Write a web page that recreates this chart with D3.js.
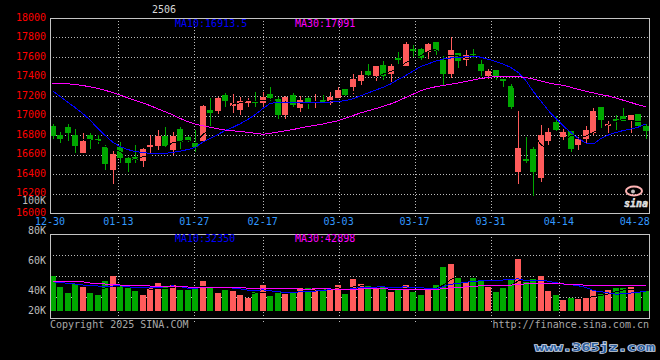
<!DOCTYPE html>
<html><head><meta charset="utf-8">
<script src="https://cdn.jsdelivr.net/npm/d3@7"></script>
<style>
html,body{margin:0;padding:0;background:#000;}
svg{display:block;}
text{font-family:"DejaVu Sans Mono","Liberation Mono",monospace;font-size:10px;}
</style></head><body>
<svg id="c" width="660" height="360"></svg>
<script>
// ---------- data ----------
const dates = ["12-30","12-31","01-02","01-03","01-06","01-07","01-08","01-09","01-10","01-13",
"01-14","01-15","01-16","01-17","01-20","01-21","01-22","01-23","01-24","01-27",
"02-05","02-06","02-07","02-10","02-11","02-12","02-13","02-14","02-17","02-18",
"02-19","02-20","02-21","02-24","02-25","02-26","02-27","02-28","03-03","03-04",
"03-05","03-06","03-07","03-10","03-11","03-12","03-13","03-14","03-17","03-18",
"03-19","03-20","03-21","03-24","03-25","03-26","03-27","03-28","03-31","04-01",
"04-02","04-03","04-07","04-08","04-09","04-10","04-11","04-14","04-15","04-16",
"04-17","04-18","04-21","04-22","04-23","04-24","04-25","04-28","04-29","04-30"];
const opens = [16892,16800,16879,16797,16612,16800,16759,16680,16438,16677,
16567,16574,16533,16677,16688,16786,16646,16858,16776,16721,
16741,17052,17048,17210,17095,17058,17133,17153,17126,17220,
17170,17008,17210,17075,17183,17126,17160,17133,17183,17276,
17290,17351,17453,17402,17522,17430,17586,17505,17682,17685,
17648,17757,17573,17430,17641,17573,17634,17532,17410,17464,
17372,17301,16423,16551,16652,16358,16737,16930,16778,16838,
16696,16764,16821,17092,16896,16967,16997,16950,17018,16889];
const highs = [16916,16834,16909,16858,16824,16817,16803,16694,16636,16732,
16581,16694,16670,16800,16848,16879,16834,16879,16786,16848,
17110,17183,17190,17234,17220,17187,17183,17240,17244,17288,
17193,17200,17227,17203,17190,17220,17210,17237,17288,17276,
17430,17453,17532,17505,17562,17532,17648,17753,17726,17692,
17743,17757,17624,17804,17641,17675,17685,17566,17480,17464,
17372,17345,17048,16781,16679,16906,16872,16990,16862,16838,
16788,16896,17082,17092,16940,17001,17082,17007,17018,16916];
const lows = [16756,16718,16738,16619,16612,16656,16711,16444,16294,16509,
16417,16509,16472,16619,16636,16670,16595,16653,16728,16629,
16730,16890,17014,17092,17025,17008,17092,17092,17092,17153,
16967,16967,17085,17031,17065,17082,17126,17109,17176,17181,
17225,17317,17402,17351,17361,17341,17532,17505,17600,17573,
17583,17620,17317,17385,17487,17505,17583,17402,17370,17369,
17295,17068,16298,16510,16172,16314,16696,16838,16744,16625,
16646,16720,16805,16872,16821,16855,16940,16821,16889,16761];
const closes = [16790,16759,16820,16684,16738,16745,16735,16499,16602,16567,
16509,16547,16653,16694,16786,16688,16786,16728,16735,16674,
17099,17028,17183,17153,17133,17150,17153,17129,17193,17183,
17001,17187,17109,17160,17126,17139,17139,17190,17261,17215,
17379,17416,17419,17505,17402,17511,17566,17736,17665,17590,
17736,17658,17430,17675,17556,17624,17620,17453,17453,17403,
17355,17092,16663,16534,16416,16805,16828,16848,16828,16659,
16754,16855,17048,16950,16916,16940,16940,17007,16889,16838];
const volumes = [59150,40560,30420,44620,40560,30420,26530,50190,59150,42250,
37860,33290,26530,40560,46810,40050,43430,34980,34980,40560,
50190,37860,30420,34980,33800,26530,21970,32110,43430,25350,
33800,28220,33290,38360,38360,36670,36170,38870,43430,28220,
53570,45120,41740,37860,40050,32110,36670,43430,32110,26530,
38870,43430,74360,78920,55260,49010,55770,50190,40560,32110,
38870,51880,87370,48000,53570,60330,33800,26530,18080,21970,
19770,23660,34980,28220,34480,38870,38870,40050,32110,33800];
// moving averages of close as drawn on the chart
const ma10 = [17254,17195,17138,17082,17021,16954,16869,16795,16728,16682,
16651,16631,16621,16612,16610,16612,16621,16634,16651,16672,
16728,16764,16805,16846,16879,16916,16959,17010,17072,17126,
17133,17133,17132,17134,17135,17135,17138,17138,17142,17154,
17171,17202,17231,17260,17289,17323,17369,17410,17456,17501,
17530,17557,17579,17590,17597,17602,17610,17598,17576,17554,
17528,17492,17441,17359,17246,17149,17051,16969,16892,16826,
16764,16718,16708,16764,16800,16826,16846,16862,16882,16913.5];
const ma30 = [17330,17328,17325,17318,17308,17294,17279,17258,17237,17210,
17182,17154,17130,17101,17069,17038,17007,16969,16938,16913,
16894,16879,16864,16851,16843,16836,16828,16817,16808,16817,
16831,16843,16856,16872,16887,16900,16913,16930,16946,16971,
17000,17026,17048,17070,17094,17118,17149,17184,17218,17254,
17277,17295,17308,17321,17333,17349,17364,17379,17390,17400,
17405,17405,17400,17390,17374,17354,17335,17320,17310,17289,
17267,17248,17231,17215,17200,17179,17156,17133,17108,17091];
// volume MA values before a full window exists inside the shown range
const volMa10Head = [49010,47660,46310,45120,43430,42590,41740,41740,41740];
const volMa30Head = [50190,50190,49700,49350,49010,46810,46310,45120,44620,43430,
42930,42930,42590,41740,41240,41240,40900,40390,40050,40050,
39720,39550,39210,38900,38700,38500,38300,38200,38100];
const xTickLabels = ["12-30","01-13","01-27","02-17","03-03","03-17","03-31","04-14","04-28"];
const priceTicks = [16000,16200,16400,16600,16800,17000,17200,17400,17600,17800,18000];
const volTickLabels = [20000,40000,60000,80000,100000];
const titleText = "2506";
const priceLegend = [["MA10:16913.5","#0000ff"],["MA30:17091","#ff00ff"]];
const volLegend = [["MA10:32350","#0000ff"],["MA30:42898","#ff00ff"]];

// ---------- helpers ----------
function movAvg(arr, n, head){
  return arr.map((v,i)=>{
    if(i<n-1) return head ? head[i] : null;
    return d3.mean(arr.slice(i-n+1,i+1));
  });
}
const ma5 = movAvg(closes,5,null);
const vma5 = movAvg(volumes,5,null);
const vma10 = movAvg(volumes,10,volMa10Head);
const vma30 = movAvg(volumes,30,volMa30Head);

// ---------- layout ----------
const L=50, R=649, PT=18, PB=213, VT=234, VB=318, VBASE=310.7;
const svg = d3.select("#c");
svg.append("rect").attr("width",660).attr("height",360).attr("fill","#000");

const x = d3.scaleBand().domain(dates).range([49.5,649]).paddingInner(0.2);
const xp = d3.scalePoint().domain(dates).range([50,650]);
const y = d3.scaleLinear().domain([16000,18000]).range([PB,PT]);
const yv = d3.scaleLinear().domain([0,100000]).range([VBASE, VBASE-100000/1690]);
const yvLabel = d3.scaleLinear().domain([20000,100000]).range([320.5,200.5]);

const UP="#ff5b5b", DOWN="#00a800", GRID="#bdbdbd", BORDER="#c4c4c4";
const bx = d => Math.round(x(d));
const cx = i => x(dates[i]) + x.bandwidth()/2;

const grid = svg.append("g").attr("shape-rendering","crispEdges");
// horizontal price grid
priceTicks.filter(v=>v>16000&&v<18000).forEach(v=>{
  const yy = Math.round(y(v))+0.5;
  grid.append("line").attr("x1",L).attr("x2",R).attr("y1",yy).attr("y2",yy)
    .attr("stroke",GRID).attr("stroke-dasharray","1,2");
});
// vertical grid
const vTicks = xTickLabels.slice(1, xTickLabels.length-1);
vTicks.forEach(lab=>{
  const xx = Math.round(xp(lab))+0.5;
  grid.append("line").attr("x1",xx).attr("x2",xx).attr("y1",PT).attr("y2",PB+4)
    .attr("stroke",GRID).attr("stroke-dasharray","1,2");
  grid.append("line").attr("x1",xx).attr("x2",xx).attr("y1",VT).attr("y2",VB+4)
    .attr("stroke",GRID).attr("stroke-dasharray","1,2");
});
// volume horizontal grid (panel quarters)
[1,2,3].forEach(k=>{
  const yy = Math.round(VT + k*(VB-VT)/4)+0.5;
  grid.append("line").attr("x1",L).attr("x2",R).attr("y1",yy).attr("y2",yy)
    .attr("stroke",GRID).attr("stroke-dasharray","1,2");
});

// ---------- candles ----------
const cg = svg.append("g").attr("shape-rendering","crispEdges");
dates.forEach((d,i)=>{
  const o=opens[i], c=closes[i], h=highs[i], l=lows[i];
  const col = c>=o ? UP : DOWN;
  const x0 = bx(d), w = 6;
  cg.append("line").attr("x1",x0+3.5).attr("x2",x0+3.5)
    .attr("y1",Math.round(y(h))).attr("y2",Math.round(y(l)))
    .attr("stroke",col);
  const top = Math.round(y(Math.max(o,c))), bot = Math.round(y(Math.min(o,c)));
  cg.append("rect").attr("x",x0).attr("y",top).attr("width",w)
    .attr("height",Math.max(1,bot-top)).attr("fill",col);
});

// ---------- volume bars ----------
const vg = svg.append("g").attr("shape-rendering","crispEdges");
dates.forEach((d,i)=>{
  const col = closes[i]>=opens[i] ? UP : DOWN;
  const top = Math.round(yv(volumes[i]));
  vg.append("rect").attr("x",bx(d)).attr("y",top).attr("width",6)
    .attr("height",Math.round(VBASE)-top).attr("fill",col);
});

// ---------- MA lines ----------
function drawLine(vals, ys, color){
  const ln = d3.line().defined(v=>v!=null).x((v,i)=>cx(i)).y(v=>ys(v));
  svg.append("path").datum(vals).attr("d",ln).attr("fill","none")
    .attr("stroke",color).attr("stroke-width",1).attr("shape-rendering","crispEdges");
}
drawLine(ma5, y, "#000000");
drawLine(ma10, y, "#0000ff");
drawLine(ma30, y, "#ff00ff");
drawLine(vma5, yv, "#000000");
drawLine(vma10, yv, "#0000ff");
drawLine(vma30, yv, "#ff00ff");

// ---------- borders ----------
const bg = svg.append("g").attr("shape-rendering","crispEdges");
bg.append("rect").attr("x",L+0.5).attr("y",PT+0.5).attr("width",R-L).attr("height",PB-PT)
  .attr("fill","none").attr("stroke",BORDER);
bg.append("rect").attr("x",L+0.5).attr("y",VT+0.5).attr("width",R-L).attr("height",VB-VT)
  .attr("fill","none").attr("stroke",BORDER);

// ---------- axis labels ----------
const tg = svg.append("g");
priceTicks.forEach(v=>{
  tg.append("text").attr("x",46).attr("y",y(v)-1+3.6).attr("text-anchor","end")
    .attr("fill","#ff0000").text(v);
});
volTickLabels.forEach(v=>{
  const yy = Math.min(yvLabel(v), VBASE);
  tg.append("text").attr("x",46).attr("y",yy+3.6).attr("text-anchor","end")
    .attr("fill","#bdbdbd").text((v/1000)+"K");
});
xTickLabels.forEach(lab=>{
  tg.append("text").attr("x",xp(lab)).attr("y",224.6).attr("text-anchor","middle")
    .attr("fill","#3399ff").text(lab);
});

// ---------- legends / titles ----------
tg.append("text").attr("x",164).attr("y",12.6).attr("text-anchor","middle")
  .attr("fill","#d8d8d8").text(titleText);
priceLegend.forEach((p,k)=>{
  tg.append("text").attr("x",175+k*120).attr("y",26.6).attr("fill",p[1]).text(p[0]);
});
volLegend.forEach((p,k)=>{
  tg.append("text").attr("x",175+k*120).attr("y",242.3).attr("fill",p[1]).text(p[0]);
});
tg.append("text").attr("x",50).attr("y",327.6).attr("fill","#a8a8a8").text("Copyright 2025 SINA.COM");
tg.append("text").attr("x",649).attr("y",327.6).attr("text-anchor","end").attr("fill","#a8a8a8")
  .text("http://finance.sina.com.cn");

// sina logo
const logo = svg.append("g");
logo.append("ellipse").attr("cx",634).attr("cy",191).attr("rx",8).attr("ry",4.5)
  .attr("fill","none").attr("stroke","#ffb4b4").attr("stroke-width",2);
logo.append("circle").attr("cx",633).attr("cy",191.5).attr("r",2).attr("fill","#bdbdbd");
logo.append("text").attr("x",636).attr("y",207).attr("text-anchor","middle")
  .attr("font-family","DejaVu Sans").attr("font-style","italic").attr("font-weight","bold")
  .attr("font-size",14).attr("fill","#cfcfcf").attr("stroke","#ffffff").attr("stroke-width",0.4)
  .text("sina");

// site watermark
svg.append("text").attr("x",535).attr("y",351).attr("font-family","DejaVu Sans")
  .attr("font-weight","bold").attr("font-size",15).attr("textLength",120)
  .attr("lengthAdjust","spacingAndGlyphs")
  .attr("fill","#2d5f9e").attr("stroke","#cdd7e6").attr("stroke-width",1.3)
  .attr("paint-order","stroke").text("www.365jz.com");
</script>
</body></html>
